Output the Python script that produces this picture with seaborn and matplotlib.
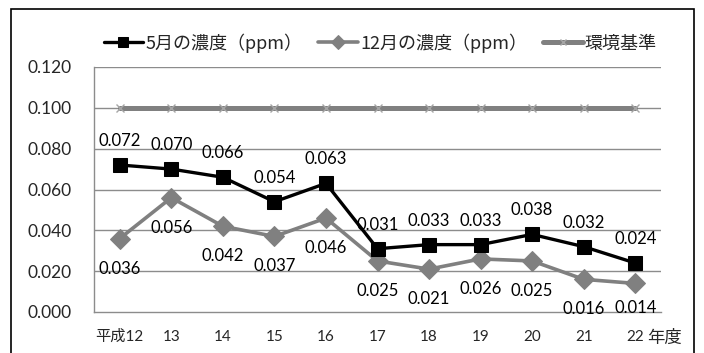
import matplotlib
matplotlib.use("Agg")
import matplotlib.pyplot as plt
import seaborn as sns
import pandas as pd
import numpy as np
from matplotlib.patches import Rectangle

years = ["平成12", "13", "14", "15", "16", "17", "18", "19", "20", "21", "22"]
may_ppm = [0.072, 0.070, 0.066, 0.054, 0.063, 0.031, 0.033, 0.033, 0.038, 0.032, 0.024]
dec_ppm = [0.036, 0.056, 0.042, 0.037, 0.046, 0.025, 0.021, 0.026, 0.025, 0.016, 0.014]
standard = [0.100] * 11
series_names = ["5月の濃度（ppm）", "12月の濃度（ppm）", "環境基準"]

sns.set_theme(style="white")
plt.rcParams["font.family"] = ["Lato", "Noto Sans CJK JP", "DejaVu Sans"]

idx = np.arange(len(years))
df = pd.DataFrame({"x": idx, "may": may_ppm, "dec": dec_ppm, "std": standard})

fig = plt.figure(figsize=(7.04, 3.53), dpi=100)
ax = fig.add_axes([94 / 704, 1 - 312 / 353, (661 - 94) / 704, (312 - 67) / 353])

gray = "#808080"
grid_c = "#8c8c8c"

for v in np.arange(0.02, 0.121, 0.02):
    ax.axhline(v, color=grid_c, lw=1.0, zorder=0)

sns.lineplot(data=df, x="x", y="std", ax=ax, color=gray, lw=3.6, marker="x",
             markersize=6, markeredgecolor="#a6a6a6", markeredgewidth=1.0, zorder=2)
sns.lineplot(data=df, x="x", y="dec", ax=ax, color=gray, lw=2.6, marker="D",
             markersize=10, markeredgecolor=gray, markerfacecolor=gray, zorder=3)
sns.lineplot(data=df, x="x", y="may", ax=ax, color="black", lw=2.4, marker="s",
             markersize=10, markeredgecolor="black", markerfacecolor="black", zorder=4)

ax.set_xlim(-0.5, len(years) - 0.5)
ax.set_ylim(0, 0.12)
yt = np.arange(0, 0.121, 0.02)
ax.set_yticks(yt)
ax.set_yticklabels([f"{v:.3f}" for v in yt], fontsize=12.5)
ax.set_xticks(idx)
ax.set_xticklabels(years, fontsize=11)
ax.set_xticks(np.arange(-0.5, len(years), 1.0), minor=True)
ax.tick_params(axis="x", which="major", length=0, pad=13)
ax.tick_params(axis="x", which="minor", length=5, color=grid_c, width=1, direction="out")
ax.tick_params(axis="y", length=6, color=grid_c, width=1, direction="out", pad=10)
ax.set_xlabel("")
ax.set_ylabel("")
for s in ["top", "right"]:
    ax.spines[s].set_visible(False)
for s in ["left", "bottom"]:
    ax.spines[s].set_color(grid_c)
    ax.spines[s].set_linewidth(1.0)

for i, v in enumerate(may_ppm):
    ax.annotate(f"{v:.3f}", (i, v), xytext=(0, 24), textcoords="offset pixels",
                ha="center", va="center", fontsize=12, color="black")
for i, v in enumerate(dec_ppm):
    dy = -25 if i == len(dec_ppm) - 1 else -30
    ax.annotate(f"{v:.3f}", (i, v), xytext=(0, dy), textcoords="offset pixels",
                ha="center", va="center", fontsize=12, color="black")

fig.text(665 / 704, 1 - 338 / 353, "年度", fontsize=12.5, ha="center", va="center",
         family=["Noto Sans CJK JP"])

handles = ax.get_lines()
leg_handles = [l for l in handles if l.get_marker() in ("s", "D", "x")]
order = {"s": 0, "D": 1, "x": 2}
leg_handles = sorted(leg_handles, key=lambda l: order[l.get_marker()])
fig.legend(leg_handles, series_names, loc="center", bbox_to_anchor=(0.54, 1 - 43 / 353),
           ncol=3, frameon=False, handlelength=2.2, columnspacing=0.9, handletextpad=0.1,
           prop={"family": ["Noto Sans CJK JP"], "size": 13}, markerscale=0.7)

fig.patches.append(Rectangle((11 / 704, -0.1), (694 - 11) / 704, 1.1 - 9 / 353,
                             transform=fig.transFigure, fill=False, edgecolor="black",
                             lw=1.2, figure=fig))

fig.savefig("out.png", dpi=100)
